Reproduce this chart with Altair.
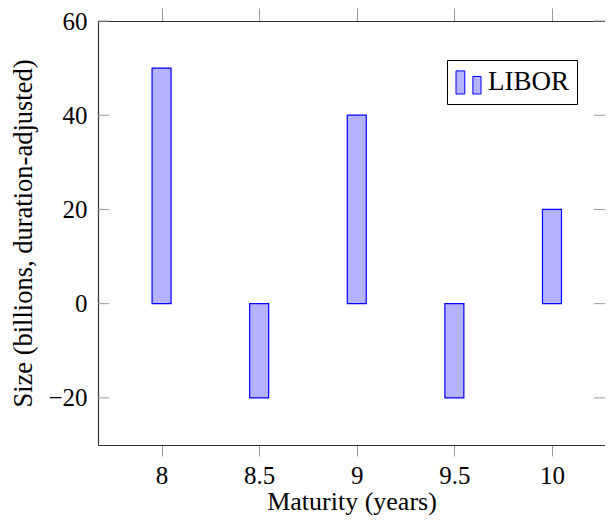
import altair as alt
import pandas as pd

# Data
maturities = [8, 8.5, 9, 9.5, 10]
sizes = [50, -20, 40, -20, 20]
series = ["LIBOR"] * len(maturities)

x_ticks = [8, 8.5, 9, 9.5, 10]
y_ticks = [-20, 0, 20, 40, 60]

df = pd.DataFrame({"maturity": maturities, "size": sizes, "series": series})
yt = pd.DataFrame({"v": y_ticks})

W, H = 507, 424
FONT = "Liberation Serif"
FRAME = "#333333"
TICK = "#999999"

xscale = alt.Scale(domain=[7.7, 10.246], nice=False, zero=False)
yscale = alt.Scale(domain=[-30, 60], nice=False, zero=False)

legend_path = ("M-1,-0.85H-0.3V1H-1Z "
               "M0.35,-0.4H1V1H0.35Z")

bars = alt.Chart(df).mark_bar(size=19, stroke="#0000ff", strokeWidth=1.2).encode(
    x=alt.X("maturity:Q", scale=xscale,
            axis=alt.Axis(orient="bottom", values=x_ticks, title="Maturity (years)",
                          format="~g", tickSize=11, tickColor=TICK, tickWidth=1,
                          domainColor=FRAME, domainWidth=1.2, labelPadding=7,
                          labelFont=FONT, labelFontSize=25, labelColor="black",
                          titleFont=FONT, titleFontSize=26, titleFontWeight="normal",
                          titleColor="black", titlePadding=0, grid=False)),
    y=alt.Y("size:Q", scale=yscale,
            axis=alt.Axis(orient="left", values=y_ticks,
                          title="Size (billions, duration-adjusted)",
                          ticks=False, domainColor=FRAME, domainWidth=1.2,
                          labelPadding=11, labelFont=FONT, labelFontSize=25,
                          labelColor="black", titleFont=FONT, titleFontSize=26.5,
                          titleFontWeight="normal", titleColor="black",
                          titlePadding=10, grid=False)),
    fill=alt.Fill("series:N", scale=alt.Scale(range=["#b3b3ff"]),
                  legend=alt.Legend(title=None, orient="none", legendX=349, legendY=39,
                                    strokeColor="black", fillColor="white", padding=8,
                                    cornerRadius=0, labelFont=FONT, labelFontSize=27,
                                    labelColor="black", labelOffset=6,
                                    symbolType=legend_path, symbolSize=625,
                                    symbolStrokeColor="#0000ff", symbolStrokeWidth=1,
                                    symbolOpacity=1)),
)

top_axis = alt.Chart(df).mark_point(opacity=0).encode(
    x=alt.X("maturity:Q", scale=xscale,
            axis=alt.Axis(orient="top", values=x_ticks, title=None, labels=False,
                          tickSize=13, tickColor=TICK, tickWidth=1,
                          domainColor=FRAME, domainWidth=1.2, grid=False)),
)

left_ticks = alt.Chart(yt).mark_rule(color=TICK, strokeWidth=1).encode(
    y=alt.Y("v:Q", scale=yscale),
    x=alt.value(0), x2=alt.value(11),
)
right_ticks = alt.Chart(yt).mark_rule(color=TICK, strokeWidth=1).encode(
    y=alt.Y("v:Q", scale=yscale),
    x=alt.value(W - 11), x2=alt.value(W),
)

chart = alt.layer(bars, top_axis, left_ticks, right_ticks).properties(
    width=W, height=H,
    autosize=alt.AutoSizeParams(type="none"),
    padding={"left": 90, "top": 13, "right": 0, "bottom": 74},
).configure_view(stroke=None).configure(background="white")

chart.save("out.html", embed_options={"renderer": "svg", "actions": False})
